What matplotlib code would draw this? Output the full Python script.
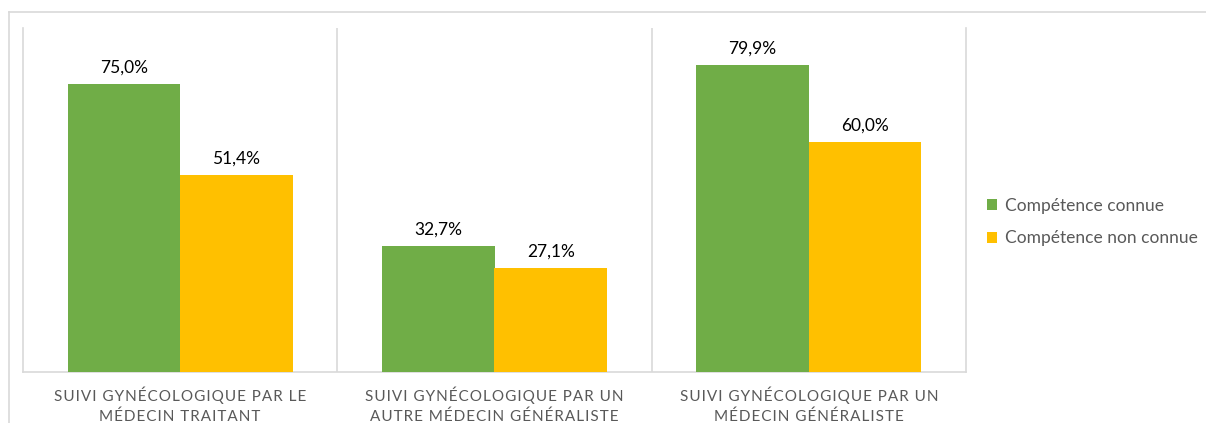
import matplotlib
matplotlib.use("Agg")
import matplotlib.pyplot as plt
from matplotlib.patches import Patch
from matplotlib.lines import Line2D
import numpy as np

categories = ["SUIVI GYNÉCOLOGIQUE PAR LE\nMÉDECIN TRAITANT",
              "SUIVI GYNÉCOLOGIQUE PAR UN\nAUTRE MÉDECIN GÉNÉRALISTE",
              "SUIVI GYNÉCOLOGIQUE PAR UN\nMÉDECIN GÉNÉRALISTE"]
series_names = ["Compétence connue", "Compétence non connue"]
connue = [75.0, 32.7, 79.9]
non_connue = [51.4, 27.1, 60.0]
colors = ["#70AD47", "#FFC000"]

W, H = 1206, 423
fig = plt.figure(figsize=(W / 100, H / 100), dpi=100)
ax = fig.add_axes([23 / W, 1 - 372 / H, (966 - 23) / W, (372 - 28) / H])

grid = "#D9D9D9"
fig.add_artist(Line2D([9 / W, 1], [1 - 12 / H, 1 - 12 / H], color=grid, lw=1.2, transform=fig.transFigure))
fig.add_artist(Line2D([9 / W, 9 / W], [0, 1 - 12 / H], color=grid, lw=1.2, transform=fig.transFigure))

x = np.arange(len(categories))
bw = 0.3577
for vals, off, c in [(connue, -bw / 2, colors[0]), (non_connue, bw / 2, colors[1])]:
    bars = ax.bar(x + off, vals, width=bw, color=c, zorder=3)
    for b, v in zip(bars, vals):
        ax.annotate(f"{v:.1f}%".replace(".", ","), (b.get_x() + b.get_width() / 2, v),
                    xytext=(0, 6), textcoords="offset points", ha="center", va="bottom",
                    fontsize=12.5, family="Lato", color="#000000")

ax.set_xlim(-0.5, 2.5)
ax.set_ylim(0, 89.6)
ax.spines["top"].set_visible(False)
for s in ["left", "right", "bottom"]:
    ax.spines[s].set_color(grid)
    ax.spines[s].set_linewidth(1.2)
for b in [0.5, 1.5]:
    ax.axvline(b, color=grid, lw=1.2, zorder=1)
ax.set_yticks([])
ax.set_xticks(x)

def tracked(s):
    return "\n".join("\u200a".join(line) for line in s.split("\n"))

ax.set_xticklabels([tracked(c) for c in categories], family=["Lato", "DejaVu Sans"],
                   fontsize=11, color="#595959", linespacing=1.45)
ax.tick_params(axis="x", length=0, pad=10.5)

handles = [Patch(facecolor=c, edgecolor="none") for c in colors]
fig.legend(handles, series_names, loc="center left", bbox_to_anchor=(987 / W, 1 - 222 / H),
           frameon=False, prop={"family": "Lato", "size": 12.5}, labelcolor="#595959",
           handlelength=0.6, handleheight=0.6, handletextpad=0.45, labelspacing=0.95,
           borderpad=0, borderaxespad=0)

fig.savefig("out.png", dpi=100)
